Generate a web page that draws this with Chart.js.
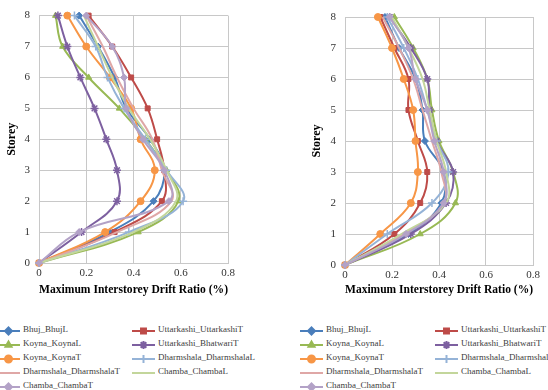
<!DOCTYPE html>
<html>
<head>
<meta charset="utf-8">
<script src="https://cdn.jsdelivr.net/npm/chart.js@4.4.1/dist/chart.umd.min.js"></script>
<style>
  html, body { margin: 0; padding: 0; background: #fff; width: 548px; height: 390px; overflow: hidden; position: relative; }
  .panel { position: absolute; top: 0; width: 274px; height: 300px; }
  .item { position: absolute; white-space: nowrap; height: 14px; line-height: 14px;
          font: 9px "Liberation Serif", "Times New Roman", serif; color: #404040; }
  .item canvas { position: absolute; left: 0; top: 0; }
  .item span { position: absolute; left: 26px; top: 0; }
</style>
</head>
<body>
<div class="panel" style="left:0"><canvas id="leftChart" width="274" height="300"></canvas></div>
<div class="panel" style="left:274px"><canvas id="rightChart" width="274" height="300"></canvas></div>
<div id="legends"></div>

<script>
// storey levels (y) and tick labels
const storeys = [0, 1, 2, 3, 4, 5, 6, 7, 8];
const xTicks = [0, 0.2, 0.4, 0.6, 0.8];

const names = [
    'Bhuj_BhujL', 'Uttarkashi_UttarkashiT', 'Koyna_KoynaL', 'Uttarkashi_BhatwariT',
    'Koyna_KoynaT', 'Dharmshala_DharmshalaL', 'Dharmshala_DharmshalaT', 'Chamba_ChambaL',
    'Chamba_ChambaT'
];

// left plot - drift ratio (%) at storey 0..8
const leftBhujL        = [0, 0.30, 0.485, 0.53, 0.47, 0.37, 0.32, 0.25, 0.17];
const leftUttarkashiT  = [0, 0.32, 0.52, 0.53, 0.50, 0.46, 0.39, 0.31, 0.21];
const leftKoynaL       = [0, 0.42, 0.59, 0.54, 0.45, 0.34, 0.21, 0.10, 0.07];
const leftBhatwariT    = [0, 0.18, 0.33, 0.33, 0.285, 0.235, 0.175, 0.12, 0.08];
const leftKoynaT       = [0, 0.28, 0.43, 0.49, 0.43, 0.39, 0.30, 0.20, 0.12];
const leftDharmshalaL  = [0, 0.38, 0.61, 0.54, 0.45, 0.36, 0.29, 0.24, 0.15];
const leftDharmshalaT  = [0, 0.33, 0.56, 0.52, 0.48, 0.40, 0.33, 0.27, 0.20];
const leftChambaL      = [0, 0.40, 0.58, 0.54, 0.47, 0.38, 0.31, 0.25, 0.19];
const leftChambaT      = [0, 0.17, 0.55, 0.53, 0.44, 0.37, 0.36, 0.31, 0.20];

// right plot
const rightBhujL       = [0, 0.27, 0.41, 0.42, 0.34, 0.33, 0.30, 0.23, 0.17];
const rightUttarkashiT = [0, 0.21, 0.32, 0.35, 0.31, 0.27, 0.27, 0.21, 0.15];
const rightKoynaL      = [0, 0.32, 0.47, 0.46, 0.40, 0.37, 0.35, 0.29, 0.21];
const rightBhatwariT   = [0, 0.28, 0.43, 0.46, 0.39, 0.36, 0.35, 0.28, 0.19];
const rightKoynaT      = [0, 0.15, 0.28, 0.31, 0.30, 0.29, 0.25, 0.20, 0.14];
const rightDharmshalaL = [0, 0.18, 0.37, 0.44, 0.39, 0.35, 0.31, 0.25, 0.18];
const rightDharmshalaT = [0, 0.25, 0.42, 0.41, 0.37, 0.33, 0.29, 0.23, 0.16];
const rightChambaL     = [0, 0.24, 0.43, 0.43, 0.39, 0.36, 0.33, 0.27, 0.20];
const rightChambaT     = [0, 0.26, 0.42, 0.42, 0.38, 0.35, 0.30, 0.27, 0.19];

const leftSeries = [leftBhujL, leftUttarkashiT, leftKoynaL, leftBhatwariT, leftKoynaT,
    leftDharmshalaL, leftDharmshalaT, leftChambaL, leftChambaT];
const rightSeries = [rightBhujL, rightUttarkashiT, rightKoynaL, rightBhatwariT, rightKoynaT,
    rightDharmshalaL, rightDharmshalaT, rightChambaL, rightChambaT];

const colors = ['#4A7EBB', '#BE4B48', '#98B954', '#7D60A0', '#F79646',
    '#95B3D7', '#DFA7A6', '#C3D69B', '#B3A2C7'];
const markers = ['rectRot', 'rect', 'triangle', 'star', 'circle', 'cross', null, null, 'rectRot'];
const radii = [3.5, 3.5, 3.5, 4, 3.5, 4, 0, 0, 3.5];

Chart.defaults.font.family = '"Liberation Serif", "Times New Roman", serif';
Chart.defaults.font.size = 11;
Chart.defaults.color = '#333';

const gridColor = '#c8c8c8';

function makeChart(id, series, pad, yWidth, xHeight) {
    const ctx = document.getElementById(id);
    return new Chart(ctx, {
        type: 'scatter',
        data: {
            datasets: names.map((n, i) => ({
                label: n,
                data: series[i].map((v, k) => ({ x: v, y: storeys[k] })),
                showLine: true,
                borderColor: colors[i],
                backgroundColor: colors[i],
                borderWidth: 2,
                tension: 0.4,
                pointStyle: markers[i] || 'circle',
                pointRadius: radii[i],
                pointBorderWidth: markers[i] === 'star' || markers[i] === 'cross' ? 1.5 : 1,
                clip: false,
                order: names.length - i
            }))
        },
        options: {
            responsive: false,
            animation: false,
            devicePixelRatio: 1,
            layout: { padding: pad },
            plugins: { legend: { display: false }, tooltip: { enabled: false } },
            scales: {
                x: {
                    type: 'linear', min: 0, max: 0.8,
                    afterBuildTicks: s => { s.ticks = xTicks.map(v => ({ value: v })); },
                    afterFit: s => { s.height = xHeight; },
                    grid: { color: gridColor, drawTicks: false },
                    border: { color: gridColor },
                    ticks: { padding: 4, callback: v => String(v) },
                    title: {
                        display: true, text: 'Maximum Interstorey Drift Ratio (%)',
                        color: '#000', font: { size: 12, weight: 'bold' },
                        padding: { top: 0, bottom: 3 }
                    }
                },
                y: {
                    type: 'linear', min: 0, max: 8,
                    afterBuildTicks: s => { s.ticks = storeys.map(v => ({ value: v })); },
                    afterFit: s => { s.width = yWidth; },
                    grid: { color: gridColor, drawTicks: false },
                    border: { color: gridColor },
                    ticks: { padding: 9 },
                    title: {
                        display: true, text: 'Storey',
                        color: '#000', font: { size: 12, weight: 'bold' },
                        padding: { top: 5, bottom: 0 }
                    }
                }
            }
        }
    });
}

makeChart('leftChart', leftSeries, { left: 0, right: 46, top: 15, bottom: 0 }, 39, 37);
makeChart('rightChart', rightSeries, { left: 31, right: 15, top: 17, bottom: 0 }, 40, 35);

// legends below each plot, two columns
function buildLegend(x0) {
    const holder = document.getElementById('legends');
    names.forEach((n, i) => {
        const col = i % 2, row = Math.floor(i / 2);
        const item = document.createElement('div');
        item.className = 'item';
        item.style.left = (x0 + col * 135) + 'px';
        item.style.top = (324 + row * 14) + 'px';
        const c = document.createElement('canvas');
        c.width = 23; c.height = 14;
        const g = c.getContext('2d');
        g.strokeStyle = colors[i];
        g.lineWidth = 2;
        g.beginPath(); g.moveTo(0, 7); g.lineTo(23, 7); g.stroke();
        if (markers[i]) {
            g.fillStyle = colors[i];
            Chart.helpers.drawPoint(g, {
                pointStyle: markers[i], radius: radii[i], rotation: 0,
                borderWidth: markers[i] === 'star' || markers[i] === 'cross' ? 1.5 : 1
            }, 11.5, 7);
        }
        const t = document.createElement('span');
        t.textContent = n;
        item.appendChild(c);
        item.appendChild(t);
        holder.appendChild(item);
    });
}
buildLegend(-3);
buildLegend(300);
</script>
</body>
</html>
